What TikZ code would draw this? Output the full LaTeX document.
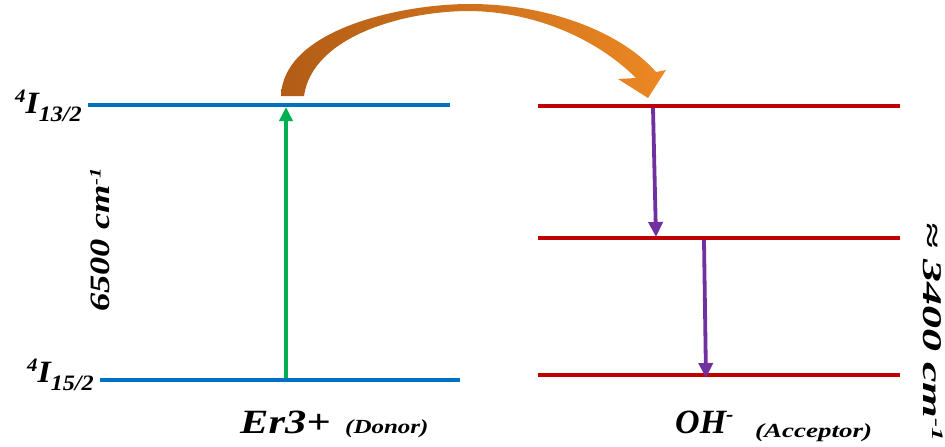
\documentclass[tikz,border=0pt]{standalone}
\usepackage{fontspec}
\setmainfont{Liberation Serif}
\usetikzlibrary{arrows.meta}
\definecolor{lvblue}{RGB}{0,112,192}
\definecolor{lvred}{RGB}{192,0,0}
\definecolor{lvgreen}{RGB}{0,176,80}
\definecolor{lvpurple}{RGB}{112,48,160}
\definecolor{orgL}{RGB}{178,92,22}
\definecolor{orgR}{RGB}{236,136,36}
\newcommand{\fsz}[1]{\fontsize{#1}{#1}\selectfont}
\begin{document}
\begin{tikzpicture}[x=1pt,y=-1pt,
  bluelevel/.style={draw=lvblue,line width=4.5pt},
  redlevel/.style={draw=lvred,line width=4.5pt},
  uparrow/.style={draw=lvgreen,line width=3.5pt,-{Triangle[width=13pt,length=14pt]}},
  downarrow/.style={draw=lvpurple,line width=3.8pt,-{Triangle[width=14pt,length=15pt]}},
  lbl/.style={inner sep=0pt,font=\bfseries\itshape}]
\useasboundingbox (0,0) rectangle (945,447);
% level endpoints
\coordinate (b1l) at (88,105); \coordinate (b1r) at (450,105);
\coordinate (b0l) at (100,380); \coordinate (b0r) at (460,380);
\coordinate (r2l) at (538,106); \coordinate (r2r) at (900,106);
\coordinate (r1l) at (538,238); \coordinate (r1r) at (900,238);
\coordinate (r0l) at (538,375); \coordinate (r0r) at (900,375);
\draw[bluelevel] (b1l) -- (b1r);
\draw[bluelevel] (b0l) -- (b0r);
\draw[redlevel] (r2l) -- (r2r);
\draw[redlevel] (r1l) -- (r1r);
\draw[redlevel] (r0l) -- (r0r);
% arrows
\coordinate (gs) at (286,378); \coordinate (ge) at (286,107);
\draw[uparrow] (gs) -- (ge);
\coordinate (p1s) at (653,108); \coordinate (p1e) at (656,237);
\draw[downarrow] (p1s) -- (p1e);
\coordinate (p2s) at (704,240); \coordinate (p2e) at (706,378);
\draw[downarrow] (p2s) -- (p2e);
% curved transfer arrow
\shade[left color=orgL,right color=orgR]
  (281,96) .. controls (283,30) and (400,4) .. (470,4)
  .. controls (550,4) and (622,33) .. (656,72)
  -- (666,70) -- (648,98) -- (618,79) -- (636,78)
  .. controls (600,42) and (540,12) .. (470,11)
  .. controls (400,11) and (312,38) .. (304,96) -- cycle;
% labels
\node[lbl,anchor=base east] (l13) at (82,113)
  {\scalebox{1.1}[1]{\fsz{31}\raisebox{11pt}{\fsz{19}4}I\raisebox{-8pt}{\fsz{22}13/2}}};
\node[lbl,anchor=base east] (l15) at (94,382)
  {\scalebox{1.1}[1]{\fsz{31}\raisebox{11pt}{\fsz{19}4}I\raisebox{-8pt}{\fsz{22}15/2}}};
\node[lbl,rotate=90] (e1) at (100,240)
  {\scalebox{1.3}[1]{\fsz{28}6500 cm\raisebox{9pt}{\fsz{16}-1}}};
\node[lbl,rotate=-90] (e2) at (933,332)
  {\scalebox{1.7}[1]{\fsz{27}≈ 3400 cm\raisebox{9pt}{\fsz{16}-1}}};
\node[lbl,anchor=base west] (er) at (240,433)
  {\scalebox{1.25}[1]{\fsz{34}Er3+}};
\node[lbl,anchor=base west] (don) at (345,433)
  {\scalebox{1.25}[1]{\fsz{20}(Donor)}};
\node[lbl,anchor=base west] (oh) at (675,433)
  {\fsz{34}OH\raisebox{12pt}{\fsz{22}-}};
\node[lbl,anchor=base west] (acc) at (755,437)
  {\scalebox{1.35}[1]{\fsz{20}(Acceptor)}};
\end{tikzpicture}
\end{document}
